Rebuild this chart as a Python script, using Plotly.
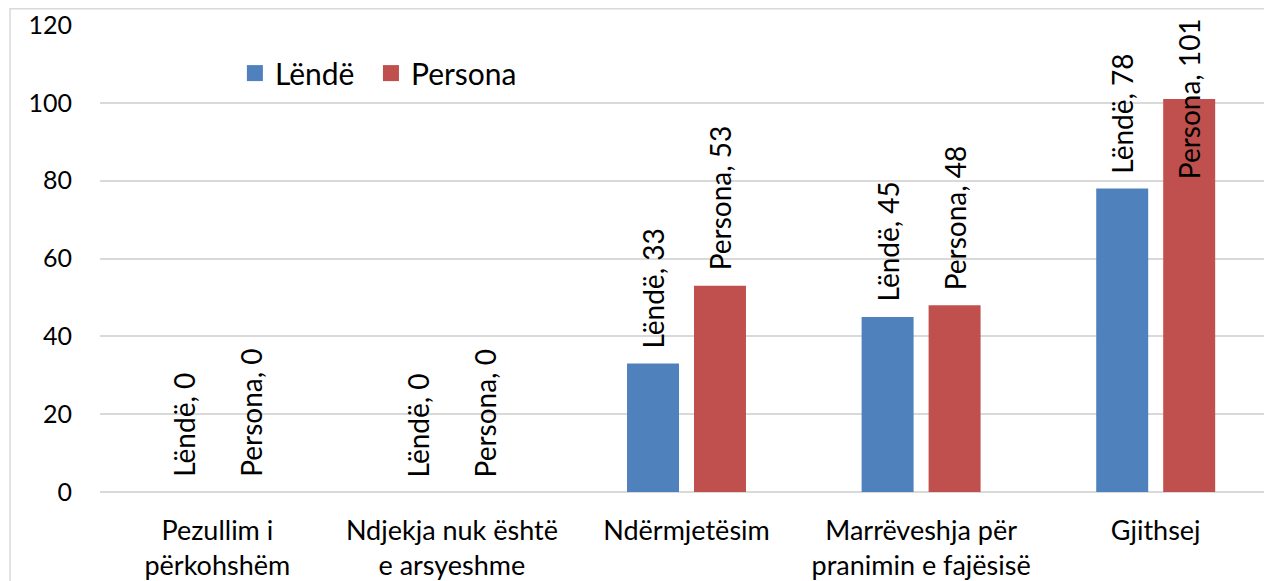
import plotly.graph_objects as go

categories = ["Pezullim i<br>përkohshëm", "Ndjekja nuk është<br>e arsyeshme", "Ndërmjetësim",
              "Marrëveshja për<br>pranimin e fajësisë", "Gjithsej"]
series_names = ["Lëndë", "Persona"]
lende = [0, 0, 33, 45, 78]
persona = [0, 0, 53, 48, 101]
colors = ["#4F81BD", "#C0504D"]
y_ticks = [0, 20, 40, 60, 80, 100, 120]

fig = go.Figure()
for name, vals, col, lg in zip(series_names, [lende, persona], colors, ["legend", "legend2"]):
    fig.add_trace(go.Bar(x=categories, y=vals, name=name, marker_color=col,
                         marker_line_width=0, showlegend=False))
    fig.add_trace(go.Scatter(x=[None], y=[None], mode="markers", name=name, legend=lg,
                             marker=dict(symbol="square", size=18, color=col)))

label_font = dict(family="Lato", size=28, color="#000000")
offsets = [-33.5, 33.5]
for name, vals, dx in zip(series_names, [lende, persona], offsets):
    for c, v in zip(categories, vals):
        clamp = v >= 100
        fig.add_annotation(x=c, y=v, text=f"{name}, {v}", textangle=-90,
                           showarrow=False, xshift=dx, yshift=0 if clamp else 13,
                           yanchor="middle" if clamp else "bottom",
                           font=label_font)

fig.add_shape(type="rect", xref="paper", yref="paper", x0=-0.0767, x1=1.1,
              y0=-0.3, y1=1.035, line=dict(color="#D9D9D9", width=1.5),
              layer="below")

leg_common = dict(orientation="h", yanchor="middle", xanchor="left", y=0.897,
                  font=dict(family="Lato", size=30), bgcolor="rgba(0,0,0,0)",
                  itemwidth=30)
fig.update_layout(
    width=1272, height=581,
    margin=dict(l=92, r=7, t=17, b=97, autoexpand=False),
    paper_bgcolor="white", plot_bgcolor="white",
    barmode="group", bargap=0.429, bargroupgap=0.224,
    font=dict(family="Lato", size=24, color="#000000"),
    legend=dict(x=0.115, **leg_common),
    legend2=dict(x=0.231, **leg_common),
    showlegend=True,
)
fig.update_yaxes(range=[0, 120], tickvals=y_ticks, showgrid=True, gridcolor="#D9D9D9",
                 gridwidth=1.5, zeroline=True, zerolinecolor="#D9D9D9", zerolinewidth=1.5,
                 showline=False, ticks="", ticklabelstandoff=27, automargin=False,
                 tickfont=dict(family="Lato", size=25))
fig.update_xaxes(showgrid=False, showline=False, ticks="", automargin=False,
                 tickfont=dict(family="Lato", size=27), ticklabelstandoff=20)

fig.write_html("out.html")
